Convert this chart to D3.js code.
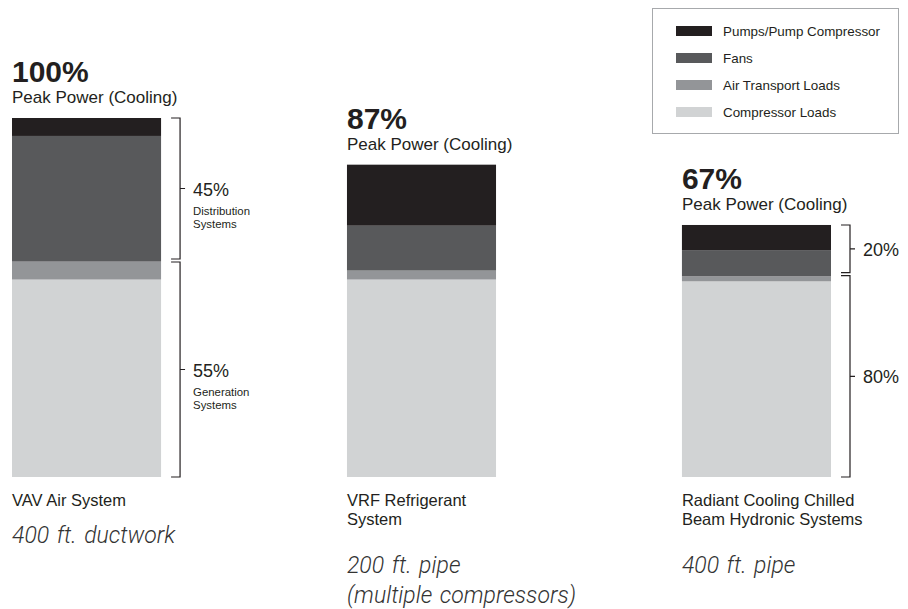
<!DOCTYPE html>
<html>
<head>
<meta charset="utf-8">
<script src="https://cdn.jsdelivr.net/npm/d3@7"></script>
<style>
  body { margin: 0; background: #fff; }
  svg text { font-family: "Liberation Sans", Arial, sans-serif; fill: #231f20; }
  .note { font-family: Roboto, "Liberation Sans", sans-serif; font-style: italic; font-weight: 300; fill: #333; word-spacing: 2px; }
</style>
</head>
<body>
<svg id="chart" width="908" height="609"></svg>
<script>
'use strict';

// values in % of the VAV peak power
var systems = ["VAV", "VRF", "Radiant"];
var peakLabels = ["100%", "87%", "67%"];
var systemLabelLines = [["VAV Air System"], ["VRF Refrigerant", "System"], ["Radiant Cooling Chilled", "Beam Hydronic Systems"]];
var noteLines = [["400 ft. ductwork"], ["200 ft. pipe", "(multiple compressors)"], ["400 ft. pipe"]];

var loadTypes = ["Pumps/Pump Compressor", "Fans", "Air Transport Loads", "Compressor Loads"];
var loadColors = ["#231f20", "#58595b", "#939598", "#d1d3d4"];
var pumpLoads = [5, 17, 7];
var fanLoads = [35, 12.5, 7.3];
var airTransportLoads = [5, 2.5, 1.4];
var compressorLoads = [55, 55, 54.5];

// brackets: which bar, where the split sits (value), and the labels
var bracketBars = [0, 2];
var bracketSplits = [60.3, 56.5];
var upperLabels = ["45%", "20%"];
var lowerLabels = ["55%", "80%"];
var upperSubLabels = [["Distribution", "Systems"], []];
var lowerSubLabels = [["Generation", "Systems"], []];

var svg = d3.select("#chart");

var y = d3.scaleLinear().domain([0, 100]).range([477, 118]);
var x = d3.scaleBand().domain(systems).range([12, 831]).paddingInner(0.555).paddingOuter(0);

var rows = systems.map(function(s, i) {
  return {
    system: s,
    "Compressor Loads": compressorLoads[i],
    "Air Transport Loads": airTransportLoads[i],
    "Fans": fanLoads[i],
    "Pumps/Pump Compressor": pumpLoads[i]
  };
});

var stackOrder = loadTypes.slice().reverse();
var stack = d3.stack().keys(stackOrder)(rows);
var color = d3.scaleOrdinal().domain(loadTypes).range(loadColors);

svg.append("g").selectAll("g")
    .data(stack)
  .enter().append("g")
    .attr("fill", function(d) { return color(d.key); })
  .selectAll("rect")
    .data(function(d) { return d; })
  .enter().append("rect")
    .attr("x", function(d) { return x(d.data.system); })
    .attr("y", function(d) { return y(d[1]); })
    .attr("width", x.bandwidth())
    .attr("height", function(d) { return y(d[0]) - y(d[1]); });

var totals = rows.map(function(r) {
  return d3.sum(loadTypes, function(k) { return r[k]; });
});

// headers above each bar, labels below
systems.forEach(function(s, i) {
  var top = y(totals[i]);
  svg.append("text")
    .attr("x", x(s)).attr("y", top - 36)
    .style("font-size", "30px").style("font-weight", "bold")
    .text(peakLabels[i]);
  svg.append("text")
    .attr("x", x(s)).attr("y", top - 15)
    .style("font-size", "17px")
    .text("Peak Power (Cooling)");

  systemLabelLines[i].forEach(function(line, j) {
    svg.append("text")
      .attr("x", x(s)).attr("y", 506 + j * 19)
      .style("font-size", "16.5px")
      .text(line);
  });

  var noteStart = systemLabelLines[i].length > 1 ? 573 : 543;
  noteLines[i].forEach(function(line, j) {
    svg.append("text")
      .attr("class", "note")
      .attr("x", x(s)).attr("y", noteStart + j * 30)
      .style("font-size", "23px")
      .text(line);
  });
});

// brackets on the right side of bars
function bracket(bx, y0, y1, label, subLabels) {
  var mid = (y0 + y1) / 2;
  svg.append("path")
    .attr("d", "M" + (bx - 9) + "," + y0 + "H" + bx + "V" + y1 + "H" + (bx - 9) +
               "M" + bx + "," + mid + "H" + (bx + 5))
    .attr("fill", "none")
    .attr("stroke", "#231f20")
    .attr("stroke-width", 1.2);
  svg.append("text")
    .attr("x", bx + 13).attr("y", mid + 7)
    .style("font-size", "18px")
    .text(label);
  subLabels.forEach(function(t, j) {
    svg.append("text")
      .attr("x", bx + 13).attr("y", mid + 26 + j * 13)
      .style("font-size", "11.4px")
      .text(t);
  });
}

bracketBars.forEach(function(b, i) {
  var s = systems[b];
  var bx = x(s) + x.bandwidth() + 19;
  var split = y(bracketSplits[i]);
  bracket(bx, y(totals[b]), split - 1.5, upperLabels[i], upperSubLabels[i]);
  bracket(bx, split + 1.5, y(0), lowerLabels[i], lowerSubLabels[i]);
});

// legend
var legend = svg.append("g").attr("transform", "translate(652,8)");
legend.append("rect")
  .attr("x", 0.5).attr("y", 0.5)
  .attr("width", 246).attr("height", 125)
  .attr("fill", "#fff")
  .attr("stroke", "#a7a9ac");

var legendRow = legend.selectAll(".legendRow")
    .data(loadTypes)
  .enter().append("g")
    .attr("class", "legendRow")
    .attr("transform", function(d, i) { return "translate(0," + (23 + i * 27) + ")"; });

legendRow.append("rect")
  .attr("x", 24).attr("y", -5)
  .attr("width", 36).attr("height", 10)
  .attr("fill", function(d) { return color(d); });

legendRow.append("text")
  .attr("x", 71).attr("y", 5)
  .style("font-size", "13.4px")
  .text(function(d) { return d; });
</script>
</body>
</html>
